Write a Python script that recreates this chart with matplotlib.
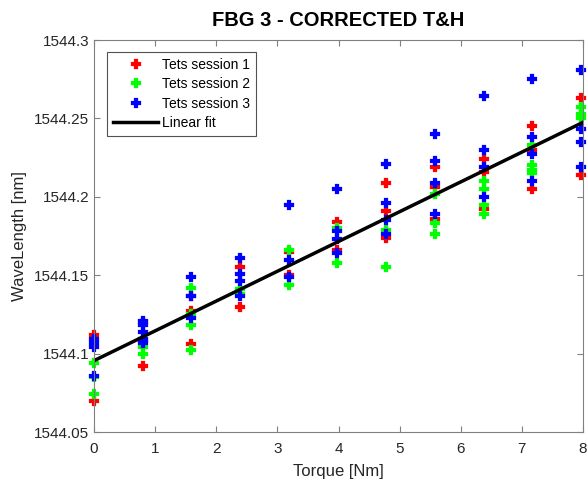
import matplotlib.pyplot as plt
import numpy as np

plt.rcParams['font.family'] = ['Liberation Sans', 'DejaVu Sans']

# torque steps [Nm]
torque = [0.0, 0.797, 1.594, 2.39, 3.19, 3.98, 4.78, 5.58, 6.38, 7.17, 7.97]

# wavelengths [nm] per torque step, one list per session
session1 = [
    [1544.112, 1544.070],
    [1544.120, 1544.108, 1544.092],
    [1544.137, 1544.127, 1544.106],
    [1544.155, 1544.130],
    [1544.165, 1544.150],
    [1544.184, 1544.166],
    [1544.209, 1544.191, 1544.174],
    [1544.219, 1544.206, 1544.186],
    [1544.224, 1544.216, 1544.192],
    [1544.245, 1544.230, 1544.205],
    [1544.263, 1544.214],
]
session2 = [
    [1544.094, 1544.085, 1544.074],
    [1544.104, 1544.100],
    [1544.142, 1544.125, 1544.118, 1544.102],
    [1544.141, 1544.138],
    [1544.166, 1544.144],
    [1544.180, 1544.158],
    [1544.179, 1544.155],
    [1544.202, 1544.183, 1544.176],
    [1544.210, 1544.205, 1544.195, 1544.189],
    [1544.233, 1544.220, 1544.217, 1544.215],
    [1544.257, 1544.253, 1544.250],
]
session3 = [
    [1544.109, 1544.107, 1544.104, 1544.086],
    [1544.121, 1544.118, 1544.114, 1544.109, 1544.107],
    [1544.149, 1544.137, 1544.123],
    [1544.161, 1544.151, 1544.146, 1544.137],
    [1544.195, 1544.160, 1544.149],
    [1544.205, 1544.178, 1544.173, 1544.164],
    [1544.221, 1544.196, 1544.185, 1544.176],
    [1544.240, 1544.223, 1544.209, 1544.189],
    [1544.264, 1544.230, 1544.219, 1544.200],
    [1544.275, 1544.238, 1544.227, 1544.210],
    [1544.281, 1544.243, 1544.235, 1544.219],
]
labels = ['Tets session 1', 'Tets session 2', 'Tets session 3']
colors = ['#ff0000', '#00ff00', '#0000ff']

# linear fit
fit_intercept = 1544.0955
fit_slope = 0.0190

yticks = [1544.05, 1544.1, 1544.15, 1544.2, 1544.25, 1544.3]
ytick_labels = ['1544.05', '1544.1', '1544.15', '1544.2', '1544.25', '1544.3']


def flatten(session):
    xs = []
    ys = []
    for t, vals in zip(torque, session):
        for v in vals:
            xs.append(t)
            ys.append(v)
    return xs, ys


fig = plt.figure(figsize=(5.87, 4.82), dpi=100)
ax = fig.add_axes([94 / 587, 1 - 432 / 482, 489 / 587, 392 / 482])

for session, lab, col in zip([session1, session2, session3], labels, colors):
    xs, ys = flatten(session)
    ax.plot(xs, ys, linestyle='none', marker='P', markersize=6,
            color=col, markeredgecolor=col, markeredgewidth=1.6,
            label=lab, clip_on=False)

xseq = np.linspace(0, 8, 50)
ax.plot(xseq, fit_intercept + fit_slope * xseq, color='black', lw=2.5,
        label='Linear fit')

ax.set_xlim(0, 8)
ax.set_ylim(1544.05, 1544.3)
ax.set_xticks(range(9))
ax.set_yticks(yticks)
ax.set_yticklabels(ytick_labels)

gray = '#262626'
for sp in ax.spines.values():
    sp.set_color('#808080')
    sp.set_linewidth(0.8)
ax.tick_params(direction='in', length=4, top=True, right=True,
               labelsize=11, colors=gray, color='#808080')
ax.tick_params(axis='x', pad=7)
for lbl in ax.get_xticklabels() + ax.get_yticklabels():
    lbl.set_color(gray)

ax.set_xlabel('Torque [Nm]', fontsize=12, color=gray, labelpad=6)
ax.set_ylabel('WaveLength [nm]', fontsize=12, color=gray, labelpad=5)
ax.set_title('FBG 3 - CORRECTED T&H', fontsize=14.5, fontweight='bold',
             pad=10)

leg = ax.legend(loc='upper left', bbox_to_anchor=(0.027, 0.97),
                fontsize=10, frameon=True, fancybox=False,
                edgecolor='#262626', borderaxespad=0, handlelength=3.2,
                handletextpad=0.3, labelspacing=0.38, markerscale=0.85,
                borderpad=0.45)
leg.get_frame().set_linewidth(0.8)

fig.savefig('out.png', dpi=100)
